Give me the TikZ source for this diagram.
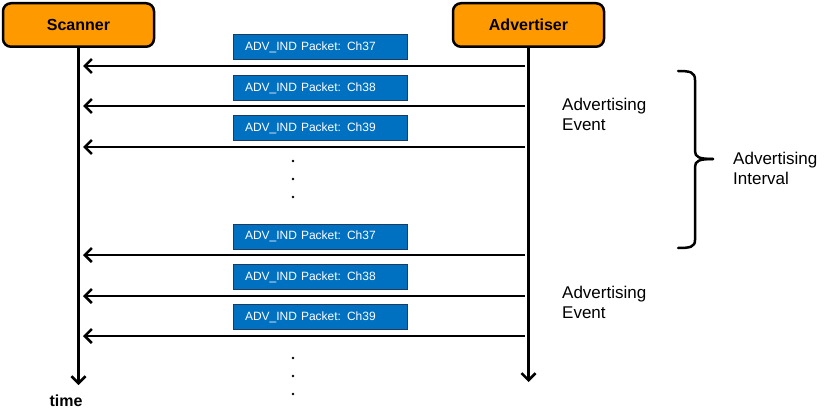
\documentclass[tikz,border=0pt]{standalone}
\usepackage{fontspec}
\setmainfont{Liberation Sans}
\usetikzlibrary{arrows.meta}
\definecolor{orangebox}{HTML}{FF9900}
\definecolor{pktblue}{HTML}{0070C0}
\definecolor{pktborder}{HTML}{1F3A5F}
\begin{document}
\begin{tikzpicture}[x=1pt,y=-1pt,
  actor/.style={draw=black, line width=2.5pt, fill=orangebox, rounded corners=8pt,
    minimum width=151pt, minimum height=43.5pt, inner sep=0pt,
    font=\fontsize{16}{18}\selectfont\bfseries},
  pkt/.style={draw=pktborder, line width=1pt, fill=pktblue, text=white,
    text width=150pt, align=left, inner xsep=12pt, inner ysep=0pt,
    minimum height=25pt, font=\fontsize{12}{14}\selectfont},
  life/.style={line width=2.5pt, -{Straight Barb[length=7pt,width=14pt,line width=2.5pt]}},
  msg/.style={line width=2.5pt, -{Straight Barb[length=7pt,width=14pt,line width=2.5pt]}},
  lbl/.style={anchor=west, align=left, inner sep=0pt, font=\fontsize{17}{20}\selectfont},
  dotmark/.style={circle, fill=black, inner sep=0pt, minimum size=2.6pt},
  brace/.style={line width=2.5pt, line cap=round}
]
\useasboundingbox (0,0) rectangle (840,417);
\fill[white] (0,0) rectangle (840,417);

% actors
\node[actor] (scanner) at (78.5,25) {Scanner};
\node[actor] (adv) at (528.5,25) {Advertiser};

% lifelines
\coordinate (sEnd) at (78.5,385);
\coordinate (aEnd) at (528.5,382);
\draw[life] (scanner.south) -- (sEnd);
\draw[life] (adv.south) -- (aEnd);
\node[font=\fontsize{16}{18}\selectfont\bfseries, inner sep=0pt] (time) at (66,401) {time};

% packets and message arrows
\foreach \i/\by/\ay/\ch in {1/47/66/37, 2/88.5/106/38, 3/128/147/39, 4/236.5/255/37, 5/277/296/38, 6/317/336/39}{
  \node[pkt] (p\i) at (320,\by) {ADV\_IND Packet: Ch\ch};
  \coordinate (from\i) at (525,\ay);
  \coordinate (to\i) at (83,\ay);
  \draw[msg] (from\i) -- (to\i);
}

% dots
\foreach \j/\y in {1/161, 2/179, 3/197, 4/358, 5/376, 6/394}{
  \node[dotmark] (d\j) at (293,\y) {};
}

% labels
\node[lbl] (ev1) at (562,114) {Advertising\\Event};
\node[lbl] (ev2) at (562,302.5) {Advertising\\Event};
\node[lbl] (intv) at (733,168) {Advertising\\Interval};

% brace
\draw[brace] (678,71) .. controls (690,71) and (695,72) .. (695,80) -- (695,151)
  .. controls (695,157) and (699,159) .. (713,159);
\draw[brace] (713,159) .. controls (699,159) and (695,161) .. (695,167) -- (695,240)
  .. controls (695,247) and (690,248) .. (678,248);
\end{tikzpicture}
\end{document}
